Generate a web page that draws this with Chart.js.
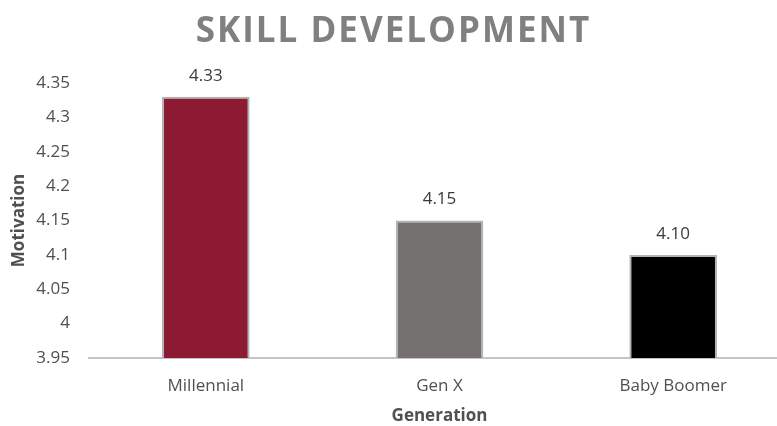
<!DOCTYPE html>
<html>
<head>
<meta charset="utf-8">
<title>Skill Development</title>
<script src="https://cdn.jsdelivr.net/npm/chart.js@4"></script>
<style>
    html, body { margin: 0; padding: 0; background: #fff; overflow: hidden; }
    .wrap { position: relative; width: 790px; height: 426px; }
    .chart-title {
        position: absolute; left: 5px; top: 5px; width: 777px; margin: 0;
        text-align: center; font-family: "Open Sans", sans-serif; font-weight: 700;
        font-size: 35px; letter-spacing: 2px; color: #808080;
    }
</style>
</head>
<body>
<div class="wrap">
    <h1 class="chart-title">SKILL DEVELOPMENT</h1>
    <canvas id="skillChart"></canvas>
</div>
<script>
// Average motivation score per generation
const generations = ['Millennial', 'Gen X', 'Baby Boomer'];
const motivation = [4.33, 4.15, 4.10];
const barColors = ['#8b1a32', '#767171', '#000000'];
const yTicks = [3.95, 4, 4.05, 4.1, 4.15, 4.2, 4.25, 4.3, 4.35];

const font = 'Open Sans';

// Value labels above each bar
const valueLabels = {
    id: 'valueLabels',
    afterDatasetsDraw(chart) {
        const ctx = chart.ctx;
        const meta = chart.getDatasetMeta(0);
        ctx.save();
        ctx.font = '17px "' + font + '"';
        ctx.fillStyle = '#3a3a3a';
        ctx.textAlign = 'center';
        ctx.textBaseline = 'middle';
        meta.data.forEach((bar, i) => {
            ctx.fillText(motivation[i].toFixed(2), bar.x, bar.y - 21);
        });
        ctx.restore();
    }
};

const ctx = document.getElementById('skillChart').getContext('2d');
new Chart(ctx, {
    type: 'bar',
    data: {
        labels: generations,
        datasets: [{
            data: motivation,
            backgroundColor: barColors,
            borderColor: '#b3b3b3',
            borderWidth: 2,
            categoryPercentage: 1,
            barPercentage: 0.375
        }]
    },
    options: {
        responsive: true,
        maintainAspectRatio: false,
        animation: false,
        layout: { padding: { top: 83, right: 0, left: 0, bottom: 0 } },
        plugins: {
            legend: { display: false },
            tooltip: { enabled: false },
            title: { display: false }
        },
        scales: {
            x: {
                grid: { display: false, drawTicks: false },
                border: { color: '#c4c4c4', width: 2 },
                ticks: { color: '#505050', padding: 18, font: { family: font, size: 17 } },
                title: {
                    display: true, text: 'Generation', color: '#505050',
                    font: { family: font, size: 17, weight: 'bold' },
                    padding: { top: 2, bottom: 0 }
                },
                afterFit(scale) { scale.height = 68; }
            },
            y: {
                min: 3.95,
                max: 4.35,
                afterBuildTicks(scale) { scale.ticks = yTicks.map(v => ({ value: v })); },
                grid: { display: false, drawTicks: false },
                border: { display: false },
                ticks: {
                    color: '#505050', padding: 19,
                    font: { family: font, size: 17 },
                    callback: v => String(Math.round(v * 100) / 100)
                },
                title: {
                    display: true, text: 'Motivation', color: '#505050',
                    font: { family: font, size: 17, weight: 'bold' },
                    padding: { top: 9, bottom: 0 }
                },
                afterFit(scale) { scale.width = 89; }
            }
        }
    },
    plugins: [valueLabels]
});
</script>
</body>
</html>
